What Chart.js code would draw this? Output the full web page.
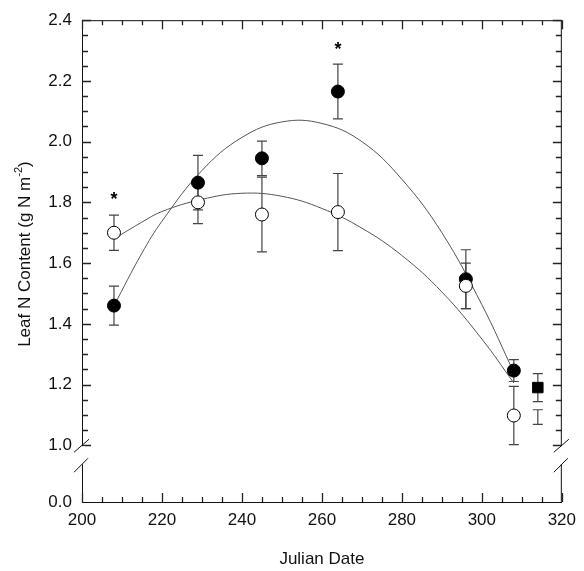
<!DOCTYPE html>
<html>
<head>
<meta charset="utf-8">
<script src="https://cdn.jsdelivr.net/npm/chart.js@4.4.1/dist/chart.umd.min.js"></script>
<style>
  html, body { margin: 0; padding: 0; background: #fff; }
</style>
</head>
<body>
<canvas id="leafChart" width="584" height="571"></canvas>
<script>
// Sampling dates (Julian day) and leaf N means / error bars
const dates = [208, 229, 245, 264, 296, 308];
const filledN = [1.46, 1.865, 1.945, 2.165, 1.547, 1.246];
const filledErr = [0.064, 0.09, 0.057, 0.09, 0.097, 0.036];
const openN = [1.70, 1.80, 1.76, 1.768, 1.525, 1.098];
const openErr = [0.058, 0.07, 0.123, 0.127, 0.075, 0.096];

// extra point at the end of the season
const squareDate = [314];
const squareN = [1.19];
const squareErr = [0.046];
const barOnlyDate = [314];
const barOnlyN = [1.093];
const barOnlyErr = [0.024];

// fitted curves
const curveDates = [208, 215, 220, 230, 240, 250, 260, 270, 280, 290, 300, 308];
const filledCurve = [1.46, 1.633, 1.738, 1.905, 2.014, 2.065, 2.06, 2.0, 1.876, 1.70, 1.463, 1.24];
const openCurve = [1.68, 1.735, 1.77, 1.81, 1.83, 1.82, 1.78, 1.715, 1.625, 1.505, 1.35, 1.205];

// significance markers
const starDates = [208, 264];
const starN = [1.823, 2.318];

const xTicks = [200, 220, 240, 260, 280, 300, 320];
const yTicks = [1.0, 1.2, 1.4, 1.6, 1.8, 2.0, 2.2, 2.4];

const FONT = '"Liberation Sans", Arial, Helvetica, sans-serif';
Chart.defaults.font.family = FONT;
Chart.defaults.font.size = 17;
Chart.defaults.color = '#111';

const toPts = (xs, ys) => xs.map((x, i) => ({ x: x, y: ys[i] }));

// error bars under the markers
const errorBars = {
    id: 'errorBars',
    beforeDatasetsDraw(chart) {
        const { ctx } = chart;
        const x = chart.scales.x, y = chart.scales.y;
        ctx.save();
        ctx.strokeStyle = '#444';
        ctx.lineWidth = 1.2;
        chart.data.datasets.forEach(ds => {
            if (!ds.errors) return;
            ds.data.forEach((p, i) => {
                const e = ds.errors[i];
                const px = x.getPixelForValue(p.x);
                const top = y.getPixelForValue(p.y + e);
                const bot = y.getPixelForValue(p.y - e);
                ctx.beginPath();
                ctx.moveTo(px, top); ctx.lineTo(px, bot);
                ctx.moveTo(px - 5, top); ctx.lineTo(px + 5, top);
                ctx.moveTo(px - 5, bot); ctx.lineTo(px + 5, bot);
                ctx.stroke();
            });
        });
        ctx.restore();
    }
};

// frame, inward ticks, axis breaks, asterisks and y title
const decorations = {
    id: 'decorations',
    afterDraw(chart) {
        const { ctx, chartArea: a } = chart;
        const x = chart.scales.x, y = chart.scales.y;
        const yBreak = y.bottom;
        ctx.save();
        ctx.strokeStyle = '#111';
        ctx.lineWidth = 1;

        // top and right frame
        ctx.beginPath();
        ctx.moveTo(a.left, a.top + 0.5); ctx.lineTo(a.right, a.top + 0.5);
        ctx.moveTo(a.right - 0.5, a.top); ctx.lineTo(a.right - 0.5, a.bottom);
        ctx.stroke();

        // ticks on all four sides
        ctx.strokeStyle = '#222';
        ctx.lineWidth = 1.3;
        ctx.beginPath();
        for (let v = 200; v <= 320; v += 5) {
            const px = Math.round(x.getPixelForValue(v)) + 0.5;
            const len = v % 20 === 0 ? 9 : 5;
            ctx.moveTo(px, a.bottom); ctx.lineTo(px, a.bottom - len);
            ctx.moveTo(px, a.top); ctx.lineTo(px, a.top + len);
        }
        for (let k = 0; k <= 28; k++) {
            const v = 1.0 + k * 0.05;
            const py = Math.round(y.getPixelForValue(v)) + 0.5;
            const len = k % 4 === 0 ? 9 : 6;
            ctx.moveTo(a.left, py); ctx.lineTo(a.left + len, py);
            ctx.moveTo(a.right, py); ctx.lineTo(a.right - len, py);
        }
        ctx.stroke();

        // axis breaks on left and right
        ctx.strokeStyle = '#111';
        ctx.lineWidth = 1;
        [a.left, a.right].forEach(ax => {
            ctx.fillStyle = '#fff';
            ctx.fillRect(ax - 3, yBreak + 1, 6, 18);
            ctx.beginPath();
            ctx.moveTo(ax - 8, yBreak + 7); ctx.lineTo(ax + 7, yBreak - 6);
            ctx.moveTo(ax - 8, yBreak + 27); ctx.lineTo(ax + 6, yBreak + 13);
            ctx.stroke();
        });

        // asterisks
        ctx.fillStyle = '#000';
        ctx.font = 'bold 18px ' + FONT;
        ctx.textAlign = 'center';
        ctx.textBaseline = 'alphabetic';
        starDates.forEach((d, i) => {
            ctx.fillText('*', x.getPixelForValue(d), y.getPixelForValue(starN[i]) + 10);
        });

        // y axis title with superscript
        ctx.fillStyle = '#111';
        ctx.translate(25, (a.top + a.bottom) / 2 - 7);
        ctx.rotate(-Math.PI / 2);
        ctx.textBaseline = 'middle';
        ctx.textAlign = 'left';
        const main = 'Leaf N Content (g N m';
        ctx.font = '17px ' + FONT;
        const w1 = ctx.measureText(main).width;
        ctx.font = '11px ' + FONT;
        const w2 = ctx.measureText('-2').width;
        ctx.font = '17px ' + FONT;
        const w3 = ctx.measureText(')').width;
        let sx = -(w1 + w2 + w3) / 2;
        ctx.fillText(main, sx, 0);
        ctx.font = '11px ' + FONT;
        ctx.fillText('-2', sx + w1, -6);
        ctx.font = '17px ' + FONT;
        ctx.fillText(')', sx + w1 + w2, 0);
        ctx.restore();
    }
};

new Chart(document.getElementById('leafChart'), {
    type: 'scatter',
    data: {
        datasets: [{
            label: 'Open',
            data: toPts(dates, openN),
            errors: openErr,
            xAxisID: 'x',
            yAxisID: 'y',
            pointRadius: 6.5,
            pointBackgroundColor: '#fff',
            pointBorderColor: '#000',
            pointBorderWidth: 1,
            order: 1
        }, {
            label: 'Filled',
            data: toPts(dates, filledN),
            errors: filledErr,
            xAxisID: 'x',
            yAxisID: 'y',
            pointRadius: 6.5,
            pointBackgroundColor: '#000',
            pointBorderColor: '#000',
            pointBorderWidth: 1,
            order: 2
        }, {
            label: 'Square',
            data: toPts(squareDate, squareN),
            errors: squareErr,
            xAxisID: 'x',
            yAxisID: 'y',
            pointStyle: 'rect',
            pointRadius: 7.4,
            pointBackgroundColor: '#000',
            pointBorderColor: '#000',
            order: 2
        }, {
            label: 'Bar only',
            data: toPts(barOnlyDate, barOnlyN),
            errors: barOnlyErr,
            xAxisID: 'x',
            yAxisID: 'y',
            pointRadius: 0,
            order: 3
        }, {
            label: 'Filled fit',
            data: toPts(curveDates, filledCurve),
            xAxisID: 'x',
            yAxisID: 'y',
            showLine: true,
            pointRadius: 0,
            borderColor: '#555',
            borderWidth: 1,
            tension: 0.4,
            order: 5
        }, {
            label: 'Open fit',
            data: toPts(curveDates, openCurve),
            xAxisID: 'x',
            yAxisID: 'y',
            showLine: true,
            pointRadius: 0,
            borderColor: '#555',
            borderWidth: 1,
            tension: 0.4,
            order: 5
        }]
    },
    options: {
        responsive: false,
        animation: false,
        layout: { padding: { top: 18, right: 17, left: 0, bottom: 0 } },
        plugins: {
            legend: { display: false },
            tooltip: { enabled: false }
        },
        scales: {
            x: {
                type: 'linear',
                min: 200,
                max: 320,
                grid: { display: false, drawTicks: false },
                border: { display: true, color: '#111' },
                afterBuildTicks: s => { s.ticks = xTicks.map(v => ({ value: v })); },
                ticks: { padding: 8, maxRotation: 0 },
                title: { display: true, text: 'Julian Date', padding: { top: 0, bottom: 1 } },
                afterFit: s => { s.height = 69; }
            },
            // lower (broken) part first so that the main axis sits on top of the stack
            yLow: {
                type: 'linear',
                position: 'left',
                stack: 'leafN',
                stackWeight: 57,
                min: 0,
                max: 0.19,
                grid: { display: false, drawTicks: false },
                border: { display: true, color: '#111' },
                afterBuildTicks: s => { s.ticks = [{ value: 0 }]; },
                ticks: { padding: 10, callback: v => v.toFixed(1) },
                afterFit: s => { s.width = 82; }
            },
            y: {
                type: 'linear',
                position: 'left',
                stack: 'leafN',
                stackWeight: 427,
                min: 1.0,
                max: 2.4,
                grid: { display: false, drawTicks: false },
                border: { display: true, color: '#111' },
                afterBuildTicks: s => { s.ticks = yTicks.map(v => ({ value: v })); },
                ticks: { padding: 10, callback: v => v.toFixed(1) },
                afterFit: s => { s.width = 82; }
            }
        }
    },
    plugins: [errorBars, decorations]
});
</script>
</body>
</html>
